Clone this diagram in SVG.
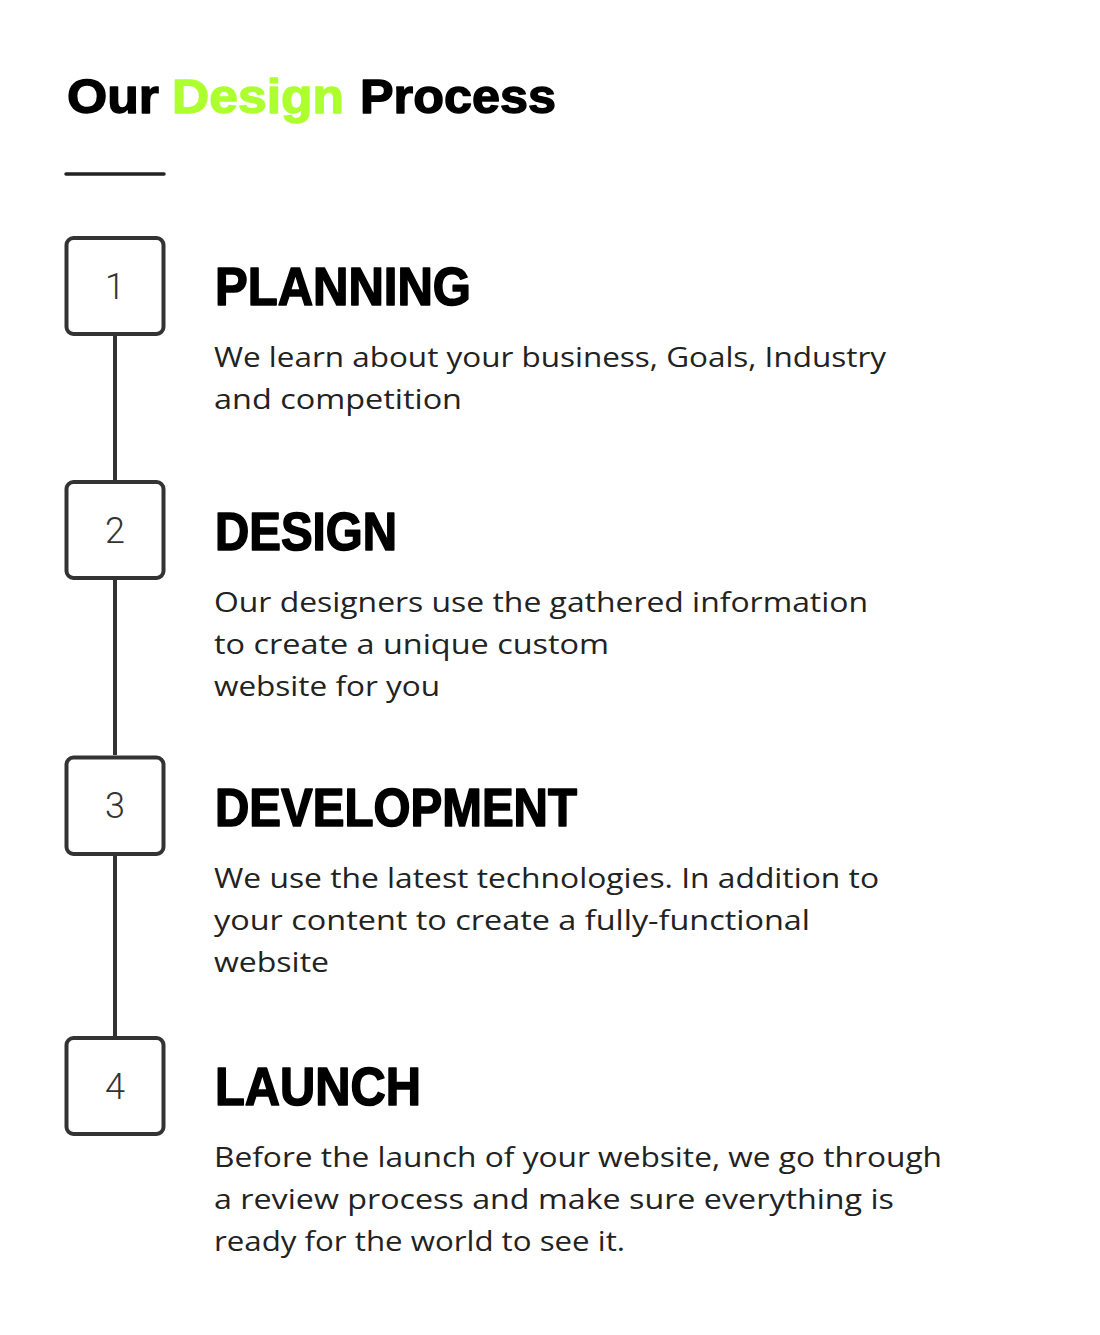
<svg xmlns="http://www.w3.org/2000/svg" width="1100" height="1335" viewBox="0 0 1100 1335">
<style>
.title{font-family:"Liberation Sans",Arial,sans-serif;font-weight:700;font-size:49px;fill:#000;stroke:#000;stroke-width:1.4;stroke-linejoin:round}
.green{fill:#adff2f;stroke:#adff2f}
.box{fill:#fff;stroke:#333;stroke-width:4}
.num{font-family:Roboto,"Liberation Sans",sans-serif;font-weight:300;font-size:36px;fill:#333;text-anchor:middle}
.head{font-family:"Liberation Sans",Arial,sans-serif;font-weight:700;font-size:54px;fill:#000;stroke:#000;stroke-width:1.6;stroke-linejoin:round}
.body{font-family:"Open Sans","Liberation Sans",sans-serif;font-weight:400;font-size:28px;fill:#222}
.conn{stroke:#333;stroke-width:4;fill:none}
</style>
<rect width="1100" height="1335" fill="#fff"/>
<g id="title">
<text class="title" y="113"><tspan x="67" textLength="92" lengthAdjust="spacingAndGlyphs">Our</tspan><tspan x="172" class="green" textLength="172" lengthAdjust="spacingAndGlyphs">Design</tspan><tspan x="360" textLength="196" lengthAdjust="spacingAndGlyphs">Process</tspan></text>
<line x1="66" y1="174" x2="164" y2="174" stroke="#222" stroke-width="3.5" stroke-linecap="round"/>
</g>
<g id="connectors">
<line class="conn" x1="115" y1="336" x2="115" y2="480"/>
<line class="conn" x1="115" y1="580" x2="115" y2="755"/>
<line class="conn" x1="115" y1="856" x2="115" y2="1036"/>
</g>
<g id="step1">
<rect class="box" x="66.5" y="238" width="97" height="96" rx="7"/>
<text class="num" x="115" y="299">1</text>
<text class="head" x="215" y="305" textLength="256" lengthAdjust="spacingAndGlyphs">PLANNING</text>
<text class="body" x="214" y="367" textLength="672" lengthAdjust="spacingAndGlyphs">We learn about your business, Goals, Industry</text>
<text class="body" x="214" y="409" textLength="248" lengthAdjust="spacingAndGlyphs">and competition</text>
</g>
<g id="step2">
<rect class="box" x="66.5" y="482" width="97" height="96" rx="7"/>
<text class="num" x="115" y="543">2</text>
<text class="head" x="215" y="550" textLength="182" lengthAdjust="spacingAndGlyphs">DESIGN</text>
<text class="body" x="214" y="612" textLength="654" lengthAdjust="spacingAndGlyphs">Our designers use the gathered information</text>
<text class="body" x="214" y="654" textLength="395" lengthAdjust="spacingAndGlyphs">to create a unique custom</text>
<text class="body" x="214" y="696" textLength="226" lengthAdjust="spacingAndGlyphs">website for you</text>
</g>
<g id="step3">
<rect class="box" x="66.5" y="757.5" width="97" height="96.5" rx="7"/>
<text class="num" x="115" y="818">3</text>
<text class="head" x="215" y="826" textLength="362" lengthAdjust="spacingAndGlyphs">DEVELOPMENT</text>
<text class="body" x="214" y="888" textLength="665" lengthAdjust="spacingAndGlyphs">We use the latest technologies. In addition to</text>
<text class="body" x="214" y="930" textLength="596" lengthAdjust="spacingAndGlyphs">your content to create a fully-functional</text>
<text class="body" x="214" y="972" textLength="115" lengthAdjust="spacingAndGlyphs">website</text>
</g>
<g id="step4">
<rect class="box" x="66.5" y="1038" width="97" height="96" rx="7"/>
<text class="num" x="115" y="1099">4</text>
<text class="head" x="215" y="1105" textLength="206" lengthAdjust="spacingAndGlyphs">LAUNCH</text>
<text class="body" x="214" y="1167" textLength="728" lengthAdjust="spacingAndGlyphs">Before the launch of your website, we go through</text>
<text class="body" x="214" y="1209" textLength="680" lengthAdjust="spacingAndGlyphs">a review process and make sure everything is</text>
<text class="body" x="214" y="1251" textLength="411" lengthAdjust="spacingAndGlyphs">ready for the world to see it.</text>
</g>
</svg>
